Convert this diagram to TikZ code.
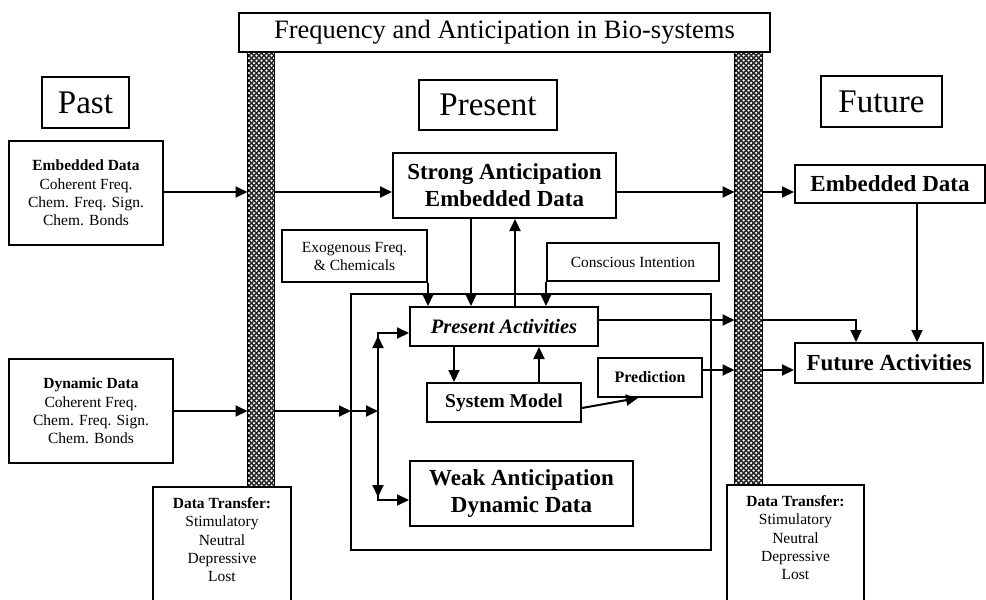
\documentclass[tikz,border=0pt]{standalone}
\usepackage{fontspec}
\setmainfont{Liberation Serif}
\usetikzlibrary{arrows.meta}
\newcommand\fs[2]{\fontsize{#1}{#2}\selectfont}
\tikzset{
  box/.style={draw, line width=2pt, inner sep=0pt, align=center, fill=white},
  arr/.style={line width=2pt, -{Triangle[length=12pt,width=11pt]}},
  ln/.style={line width=2pt},
  pillar/.style={draw, line width=1pt, fill=black!85, inner sep=0pt},
  dot/.style={fill=white},
}
% \bx{name}{x1}{y1}{x2}{y2}{font}{text}
\newcommand\bx[7]{\node[box, font=#6, minimum width={(#4-#2)*1pt}, minimum height={(#5-#3)*1pt}]
  (#1) at ({(#2+#4)/2},{(#3+#5)/2}) {#7};}
% \pil{name}{x1}{y1}{x2}{y2}
\newcommand\pil[5]{%
  \node[pillar, minimum width={(#4-#2)*1pt}, minimum height={(#5-#3)*1pt}] (#1) at ({(#2+#4)/2},{(#3+#5)/2}) {};
  \begin{scope}
    \clip (#2,#3) rectangle (#4,#5);
    \foreach \j in {0,...,88} {
      \foreach \i in {0,...,6} {
        \fill[dot] ({#2+1+5*\i},{#3+1+5*\j}) circle (1.25);
        \fill[dot] ({#2+3.5+5*\i},{#3+3.5+5*\j}) circle (1.25);
      }
    }
  \end{scope}
  \draw[line width=1pt] (#1.north west) rectangle (#1.south east);
}
\begin{document}
\begin{tikzpicture}[x=1pt,y=-1pt]
\useasboundingbox (0,0) rectangle (986,600);
% pillars
\pil{pL}{248}{52}{274}{487}
\pil{pR}{735}{52}{762}{485}
% title
\bx{title}{239}{13}{770}{52}{\fs{26.5}{30}}{Frequency and Anticipation in Bio-systems}
\bx{past}{42}{77}{129}{128}{\fs{33}{36}}{Past}
\bx{present}{419}{80}{557}{130}{\fs{33}{36}}{Present}
\bx{future}{821}{76}{942}{127}{\fs{33}{36}}{Future}
% left boxes
\bx{ed}{9}{141}{163}{245}{\fs{15.5}{18.3}}{\textbf{Embedded Data}\\Coherent Freq.\\Chem. Freq. Sign.\\Chem. Bonds}
\bx{dd}{9}{359}{173}{463}{\fs{15.5}{18.3}}{\textbf{Dynamic Data}\\Coherent Freq.\\Chem. Freq. Sign.\\Chem. Bonds}
% big frame
\draw[ln] (351,294) rectangle (711,550);
\coordinate (bigW) at (351,411);
% present boxes
\bx{sa}{393}{153}{616}{218}{\bfseries\fs{23}{27}}{Strong Anticipation\\Embedded Data}
\bx{exo}{282}{230}{427}{282}{\fs{15.5}{18}}{Exogenous Freq.\\\& Chemicals}
\bx{ci}{547}{243}{719}{281}{\fs{15.5}{18}}{Conscious Intention}
\bx{pa}{410}{307}{598}{346}{\bfseries\itshape\fs{20.5}{24}}{Present Activities}
\bx{sm}{427}{383}{581}{422}{\bfseries\fs{19.5}{22}}{System Model}
\bx{pred}{598}{358}{702}{397}{\bfseries\fs{16}{18}}{Prediction}
\bx{wa}{410}{461}{633}{526}{\bfseries\fs{23}{27}}{Weak Anticipation\\Dynamic Data}
% future boxes
\bx{fed}{795}{165}{985}{203}{\bfseries\fs{23}{26}}{Embedded Data}
\bx{fa}{795}{343}{983}{383}{\bfseries\fs{23}{26}}{Future Activities}
% data transfer boxes
\draw[ln, fill=white] (153,601) -- (153,487) -- (291,487) -- (291,601);
\node[font=\fs{15.5}{18.3}, align=center, anchor=north] (dtL) at (222,494) {\textbf{Data Transfer:}\\Stimulatory\\Neutral\\Depressive\\Lost};
\draw[ln, fill=white] (727,601) -- (727,485) -- (864,485) -- (864,601);
\node[font=\fs{15.5}{18.3}, align=center, anchor=north] (dtR) at (795.5,492) {\textbf{Data Transfer:}\\Stimulatory\\Neutral\\Depressive\\Lost};
% row coordinates
\coordinate (rA) at (0,192);
\coordinate (rB) at (0,320);
\coordinate (rC) at (0,370);
\coordinate (rD) at (0,411);
% row A
\draw[arr] (ed.east |- rA) -- (pL.west |- rA);
\draw[arr] (pL.east |- rA) -- (sa.west |- rA);
\draw[arr] (sa.east |- rA) -- (pR.west |- rA);
\draw[arr] (pR.east |- rA) -- (fed.west |- rA);
% row D and bus
\draw[arr] (dd.east |- rD) -- (pL.west |- rD);
\draw[arr] (pL.east |- rD) -- (bigW);
\coordinate (bus) at (378,411);
\coordinate (busT) at (378,333);
\coordinate (busB) at (378,500);
\draw[arr] (bigW) -- (bus);
\draw[arr] (bus) -- (378,336);
\draw[arr] (bus) -- (378,497);
\draw[arr] (busT) -- (busT -| pa.west);
\draw[arr] (busB) -- (busB -| wa.west);
\draw[ln] (378,338) -- (378,332);
\draw[ln] (378,495) -- (378,501);
% into present activities
\draw[arr] (exo.south east) -- (exo.south east |- pa.north);
\draw[arr] (471,0 |- sa.south) -- (471,0 |- pa.north);
\draw[arr] (515,0 |- pa.north) -- (515,0 |- sa.south);
\draw[arr] (ci.south west) -- (ci.south west |- pa.north);
% present activities <-> system model
\draw[arr] (454,0 |- pa.south) -- (454,0 |- sm.north);
\draw[arr] (539,0 |- sm.north) -- (539,0 |- pa.south);
\draw[arr] (sm.east |- 0,408) -- (638,0 |- pred.south);
% row B
\draw[arr] (pa.east |- rB) -- (pR.west |- rB);
\draw[arr] (pR.east |- rB) -- (856,0 |- rB) -- (856,0 |- fa.north);
% row C
\draw[arr] (pred.east |- rC) -- (pR.west |- rC);
\draw[arr] (pR.east |- rC) -- (fa.west |- rC);
% future embedded -> future activities
\draw[arr] (917,0 |- fed.south) -- (917,0 |- fa.north);
\end{tikzpicture}
\end{document}
